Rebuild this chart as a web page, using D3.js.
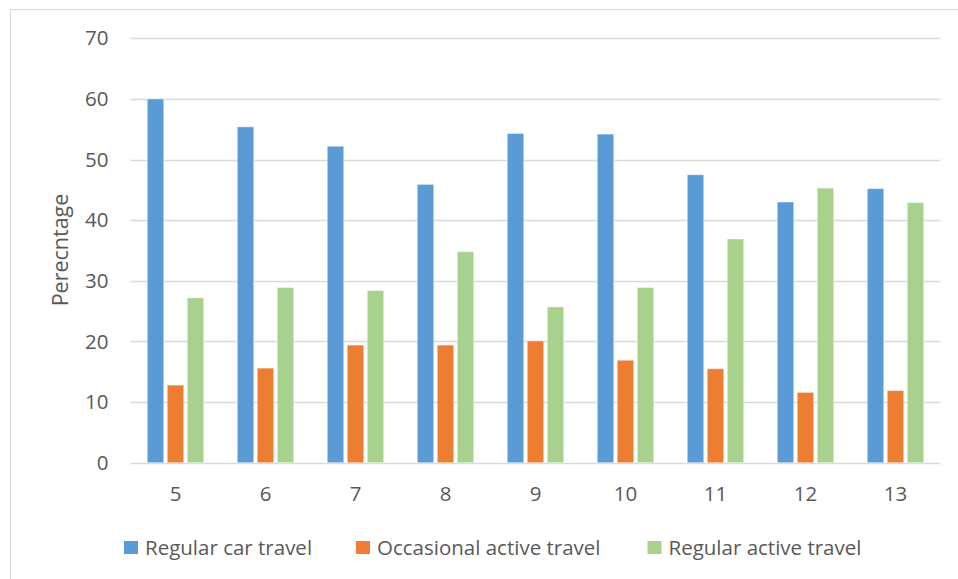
<!DOCTYPE html>
<html>
<head>
<meta charset="utf-8">
<script src="https://cdn.jsdelivr.net/npm/d3@7"></script>
<style>
  html, body { margin: 0; padding: 0; background: #fff; }
  svg { display: block; }
  text { font-family: "Open Sans", sans-serif; fill: #595959; }
</style>
</head>
<body>
<svg id="chart" width="958" height="579"></svg>
<script>
// Age groups on the x axis
const categories = ["5", "6", "7", "8", "9", "10", "11", "12", "13"];

// Share of children (%) in each travel group
const regularCar       = [60.0, 55.4, 52.2, 45.9, 54.3, 54.2, 47.5, 43.0, 45.2];
const occasionalActive = [12.8, 15.6, 19.4, 19.4, 20.1, 16.9, 15.5, 11.6, 11.9];
const regularActive    = [27.2, 28.9, 28.4, 34.8, 25.7, 28.9, 36.9, 45.3, 42.9];

const seriesNames  = ["Regular car travel", "Occasional active travel", "Regular active travel"];
const seriesValues = [regularCar, occasionalActive, regularActive];
const seriesColors = ["#5b9bd5", "#ed7d31", "#a9d18e"];

const yTicks = [0, 10, 20, 30, 40, 50, 60, 70];

const svg = d3.select("#chart");
const W = 958, H = 579;
const plot = { left: 130.5, right: 940.5, top: 38.3, bottom: 462.7 };
const labelFont = "20.5px";

// Chart area outline (top and left edges)
svg.append("line").attr("x1", 10).attr("x2", W).attr("y1", 9.5).attr("y2", 9.5)
  .attr("stroke", "#d9d9d9").attr("stroke-width", 1);
svg.append("line").attr("x1", 10.5).attr("x2", 10.5).attr("y1", 9).attr("y2", H)
  .attr("stroke", "#d9d9d9").attr("stroke-width", 1);

const x = d3.scaleBand().domain(categories).range([plot.left, plot.right]).padding(0);
const groupW = 60;
const x1 = d3.scaleBand().domain(d3.range(seriesNames.length)).range([0, groupW]).padding(0);
const y = d3.scaleLinear().domain([0, 70]).range([plot.bottom, plot.top]);

// Horizontal gridlines
svg.append("g").selectAll("line").data(yTicks).join("line")
  .attr("x1", plot.left).attr("x2", plot.right)
  .attr("y1", d => Math.round(y(d)) + 0.5).attr("y2", d => Math.round(y(d)) + 0.5)
  .attr("stroke", "#d9d9d9").attr("stroke-width", d => d === 0 ? 1.5 : 1.3);

// Y axis labels
const yAxis = d3.axisLeft(y).tickValues(yTicks).tickSize(0).tickPadding(0);
const gy = svg.append("g").attr("transform", `translate(${108.5},0)`).call(yAxis);
gy.select(".domain").remove();
gy.selectAll("text").style("font-size", labelFont).style("fill", "#595959")
  .style("font-family", "'Open Sans', sans-serif");

// X axis labels
const xAxis = d3.axisBottom(x).tickSize(0).tickPadding(0);
const gx = svg.append("g").attr("transform", `translate(0,${486.5})`).call(xAxis);
gx.select(".domain").remove();
gx.selectAll("text").style("font-size", labelFont).style("fill", "#595959")
  .style("font-family", "'Open Sans', sans-serif");

// Bars
const barW = 16.5;
const groups = svg.append("g").selectAll("g").data(categories).join("g")
  .attr("transform", d => `translate(${x(d) + (x.bandwidth() - groupW) / 2},0)`);
groups.selectAll("rect")
  .data((d, i) => seriesValues.map((vals, s) => ({ s, v: vals[i] })))
  .join("rect")
  .attr("x", d => x1(d.s) + (x1.bandwidth() - barW) / 2)
  .attr("y", d => y(d.v))
  .attr("width", barW)
  .attr("height", d => y(0) - y(d.v))
  .attr("fill", d => seriesColors[d.s])
  .attr("stroke", "#ffffff").attr("stroke-opacity", 0.45).attr("stroke-width", 1);

// Y axis title
svg.append("text")
  .attr("transform", `translate(${67.5},${250}) rotate(-90)`)
  .attr("text-anchor", "middle")
  .style("font-size", "21.5px")
  .text("Perecntage");

// Legend
const legendItems = [
  { name: seriesNames[0], color: seriesColors[0], x: 124 },
  { name: seriesNames[1], color: seriesColors[1], x: 356 },
  { name: seriesNames[2], color: seriesColors[2], x: 647.5 }
];
const lg = svg.append("g").selectAll("g").data(legendItems).join("g")
  .attr("transform", d => `translate(${d.x},${541})`);
lg.append("rect").attr("width", 14).attr("height", 13).attr("fill", d => d.color);
lg.append("text").attr("x", 21).attr("y", 14)
  .style("font-size", labelFont).text(d => d.name);
</script>
</body>
</html>
